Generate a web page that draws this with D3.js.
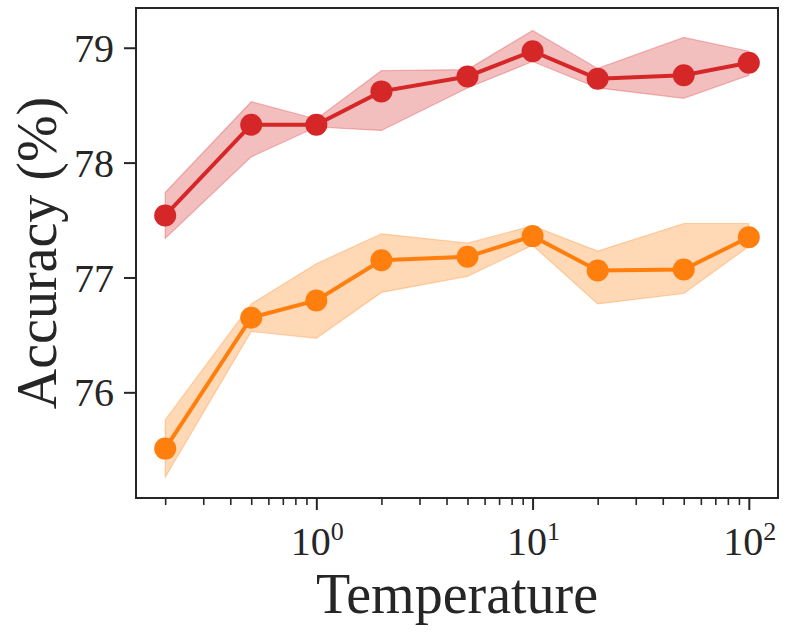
<!DOCTYPE html>
<html lang="en">
<head>
  <meta charset="UTF-8">
  <title>Accuracy vs Temperature</title>
  <style>
    html, body {
      margin: 0;
      overflow: hidden;
      width: 100%;
      height: 100%;
      background: white;
    }
    svg {
      position: absolute;
      top: 0;
      left: 0;
    }
    text {
      font-family: "Liberation Serif", "DejaVu Serif", serif;
      fill: #262626;
    }
  </style>
</head>
<body>
  <svg width="789" height="636"></svg>
</body>
<script src="https://d3js.org/d3.v7.min.js"></script>
<script type="text/javascript">
  // data
  const temperatures = [0.2, 0.5, 1, 2, 5, 10, 20, 50, 100]

  const redMean  = [77.54, 78.33, 78.33, 78.62, 78.75, 78.97, 78.73, 78.76, 78.87]
  const redUpper = [77.74, 78.53, 78.38, 78.80, 78.81, 79.15, 78.82, 79.09, 78.97]
  const redLower = [77.34, 78.05, 78.31, 78.28, 78.65, 78.88, 78.65, 78.56, 78.76]

  const orangeMean  = [75.51, 76.65, 76.80, 77.15, 77.18, 77.36, 77.06, 77.07, 77.35]
  const orangeUpper = [75.76, 76.77, 77.12, 77.38, 77.30, 77.45, 77.23, 77.47, 77.47]
  const orangeLower = [75.26, 76.53, 76.47, 76.87, 77.01, 77.28, 76.77, 76.86, 77.27]

  const yTicks = [76, 77, 78, 79]
  const xTicks = [1, 10, 100]
  const xMinorTicks = [0.2, 0.3, 0.4, 0.5, 0.6, 0.7, 0.8, 0.9,
                       2, 3, 4, 5, 6, 7, 8, 9,
                       20, 30, 40, 50, 60, 70, 80, 90]

  const series = [
    { color: '#d62728', mean: redMean, upper: redUpper, lower: redLower },
    { color: '#ff7f0e', mean: orangeMean, upper: orangeUpper, lower: orangeLower }
  ]

  const svg = d3.select('svg')
  const plot = { left: 136, right: 778, top: 8, bottom: 498 }
  const axisColor = '#262626'

  // matplotlib-like 5% margins on a log axis
  const lx = [Math.log10(0.2), Math.log10(100)]
  const padX = (lx[1] - lx[0]) * 0.05
  const x = d3.scaleLog()
    .domain([Math.pow(10, lx[0] - padX), Math.pow(10, lx[1] + padX)])
    .range([plot.left, plot.right])

  const y = d3.scaleLinear()
    .domain([75.08, 79.346])
    .range([plot.bottom, plot.top])

  // bands
  series.forEach(s => {
    const pts = temperatures.map((t, i) => ({ t: t, lo: s.lower[i], hi: s.upper[i] }))
    svg.append('path')
      .datum(pts)
      .attr('d', d3.area()
        .x(d => x(d.t))
        .y0(d => y(d.lo))
        .y1(d => y(d.hi)))
      .attr('fill', s.color)
      .attr('fill-opacity', 0.3)
      .attr('stroke', s.color)
      .attr('stroke-opacity', 0.3)
      .attr('stroke-width', 1.2)
  })

  // lines + markers
  series.forEach(s => {
    const pts = temperatures.map((t, i) => ({ t: t, v: s.mean[i] }))
    svg.append('path')
      .datum(pts)
      .attr('d', d3.line().x(d => x(d.t)).y(d => y(d.v)))
      .attr('fill', 'none')
      .attr('stroke', s.color)
      .attr('stroke-width', 4)

    svg.selectAll(null)
      .data(pts)
      .enter()
      .append('circle')
      .attr('cx', d => x(d.t))
      .attr('cy', d => y(d.v))
      .attr('r', 11)
      .attr('fill', s.color)
  })

  // frame
  svg.append('rect')
    .attr('x', plot.left)
    .attr('y', plot.top)
    .attr('width', plot.right - plot.left)
    .attr('height', plot.bottom - plot.top)
    .attr('fill', 'none')
    .attr('stroke', axisColor)
    .attr('stroke-width', 2)

  // y axis
  const yAxis = svg.append('g')
    .attr('transform', 'translate(' + plot.left + ',0)')
    .call(d3.axisLeft(y).tickValues(yTicks).tickSize(12).tickPadding(10).tickFormat(d3.format('d')))
  yAxis.select('.domain').remove()
  yAxis.selectAll('line').attr('stroke', axisColor).attr('stroke-width', 2)
  yAxis.selectAll('text')
    .attr('font-size', 40)
    .attr('font-family', '"Liberation Serif", serif')
    .attr('fill', axisColor)
    .attr('dy', '0.34em')

  // x axis, minor ticks
  const xMinor = svg.append('g')
    .attr('transform', 'translate(0,' + plot.bottom + ')')
    .call(d3.axisBottom(x).tickValues(xMinorTicks).tickSize(7).tickFormat(''))
  xMinor.select('.domain').remove()
  xMinor.selectAll('line').attr('stroke', axisColor).attr('stroke-width', 1.6)

  // x axis, major ticks with 10^n labels
  const xMajor = svg.append('g')
    .attr('transform', 'translate(0,' + plot.bottom + ')')
    .call(d3.axisBottom(x).tickValues(xTicks).tickSize(12).tickFormat(''))
  xMajor.select('.domain').remove()
  xMajor.selectAll('line').attr('stroke', axisColor).attr('stroke-width', 2)

  const xLabels = svg.append('g')
    .selectAll('text')
    .data(xTicks)
    .enter()
    .append('text')
    .attr('x', d => x(d) + 1)
    .attr('y', 555)
    .attr('text-anchor', 'middle')
    .attr('font-size', 40)
  xLabels.append('tspan').text('10')
  xLabels.append('tspan')
    .attr('font-size', 26)
    .attr('dy', -15)
    .text(d => Math.round(Math.log10(d)))

  // axis titles
  svg.append('text')
    .attr('x', (plot.left + plot.right) / 2)
    .attr('y', 613)
    .attr('text-anchor', 'middle')
    .attr('font-size', 56)
    .text('Temperature')

  svg.append('text')
    .attr('transform', 'translate(56,' + (plot.top + plot.bottom) / 2 + ') rotate(-90)')
    .attr('text-anchor', 'middle')
    .attr('font-size', 56)
    .text('Accuracy (%)')
</script>
</html>
